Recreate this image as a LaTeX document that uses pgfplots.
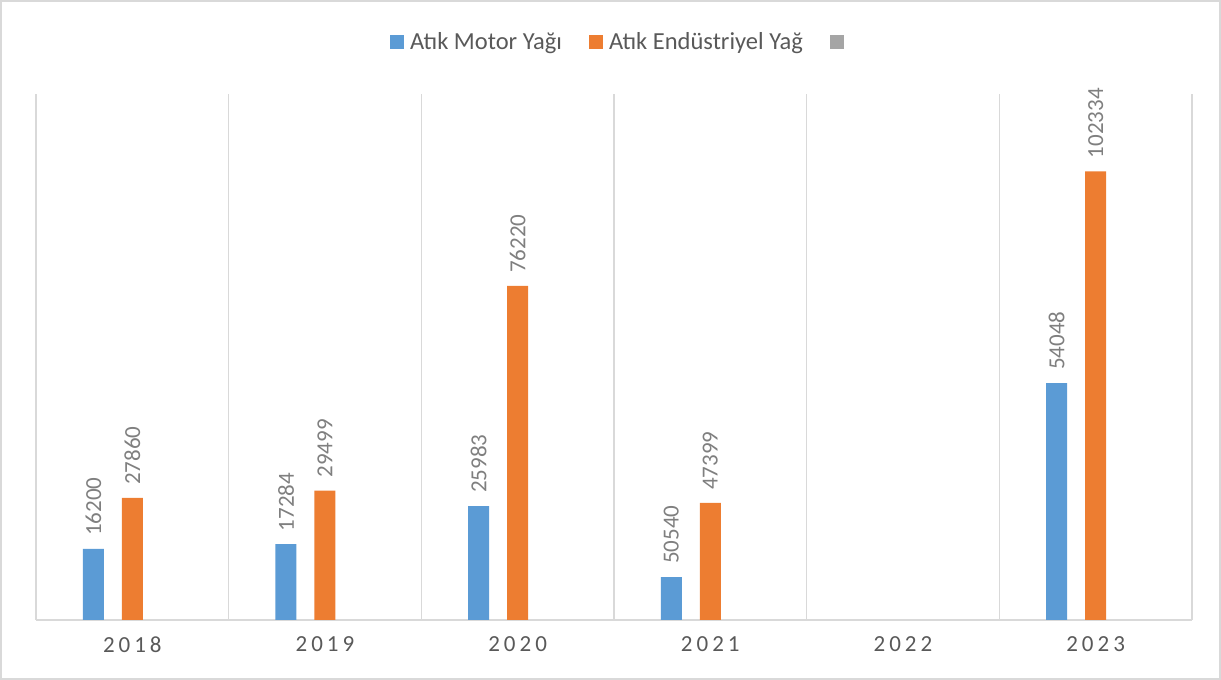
\documentclass[border=0pt]{standalone}
\usepackage{pgfplots}
\pgfplotsset{compat=1.18}
\usepackage{pgfplotstable}
\usepackage{fontspec}
\setmainfont{Carlito}
\definecolor{cblue}{HTML}{5B9BD5}
\definecolor{corange}{HTML}{ED7D31}
\definecolor{cgray}{HTML}{A5A5A5}
\definecolor{gridc}{HTML}{D9D9D9}
\definecolor{txt}{HTML}{595959}
\definecolor{lbl}{HTML}{7F7F7F}
\pgfplotstableread{
x y label
0 16200 16200
1 17284 17284
2 25983 25983
3 9800 50540
5 54048 54048
}\motor
\pgfplotstableread{
x y label
0 27860 27860
1 29499 29499
2 76220 76220
3 26700 47399
5 102334 102334
}\endus
\pgfplotstableread{
x y
0 0
1 0
2 0
3 0
4 0
5 0
}\third
\newcommand{\fs}{\fontsize{23}{27}\selectfont}
\newcommand{\fl}{\fontsize{24.5}{28}\selectfont}
\begin{document}
\begin{tikzpicture}[x=1pt,y=1pt]
\useasboundingbox (0,0) rectangle (1221,680);
\draw[gridc, line width=1.2pt] (1,1) rectangle (1220,679);
\begin{axis}[
  at={(36pt,60pt)}, anchor=south west,
  scale only axis, width=1156pt, height=526pt,
  xmin=-0.5, xmax=5.5, ymin=0, ymax=120000,
  axis x line*=bottom, axis y line=none,
  x axis line style={gridc, line width=1.5pt, -},
  ybar=18pt, bar width=21pt,
  xtick={0,1,2,3,4,5},
  xticklabels={2\kern4pt0\kern4pt1\kern4pt8,2\kern4pt0\kern4pt1\kern4pt9,2\kern4pt0\kern4pt2\kern4pt0,2\kern4pt0\kern4pt2\kern4pt1,2\kern4pt0\kern4pt2\kern4pt2,2\kern4pt0\kern4pt2\kern4pt3},
  minor xtick={-0.5,0.5,1.5,2.5,3.5,4.5,5.5},
  minor x grid style={gridc, line width=1.5pt},
  xminorgrids=true,
  major tick length=0pt, minor tick length=0pt,
  xticklabel style={text=txt, font=\fs, yshift=-13pt},
  legend style={at={(0.5,1)}, anchor=center, yshift=52pt, xshift=7pt, draw=none, fill=none,
    font=\fl, text=txt, legend columns=-1,
    /tikz/every odd column/.append style={column sep=4pt},
    /tikz/every even column/.append style={column sep=25pt}},
  legend image code/.code={\fill[#1] (0pt,-7pt) rectangle (14pt,7pt);},
  nodes near coords style={rotate=90, anchor=west, text=lbl, font=\fs, inner xsep=13pt, inner ysep=0pt},
]
\addplot[fill=cblue, draw=none, nodes near coords, point meta=explicit symbolic]
  table[x=x, y=y, meta=label]{\motor};
\addlegendentry{Atık Motor Yağı}
\addplot[fill=corange, draw=none, nodes near coords, point meta=explicit symbolic]
  table[x=x, y=y, meta=label]{\endus};
\addlegendentry{Atık Endüstriyel Yağ}
\addplot[fill=none, draw=none,
  legend image code/.code={\fill[cgray] (0pt,-7pt) rectangle (14pt,7pt);}]
  table[x=x, y=y]{\third};
\addlegendentry{}
\end{axis}
\end{tikzpicture}
\end{document}
